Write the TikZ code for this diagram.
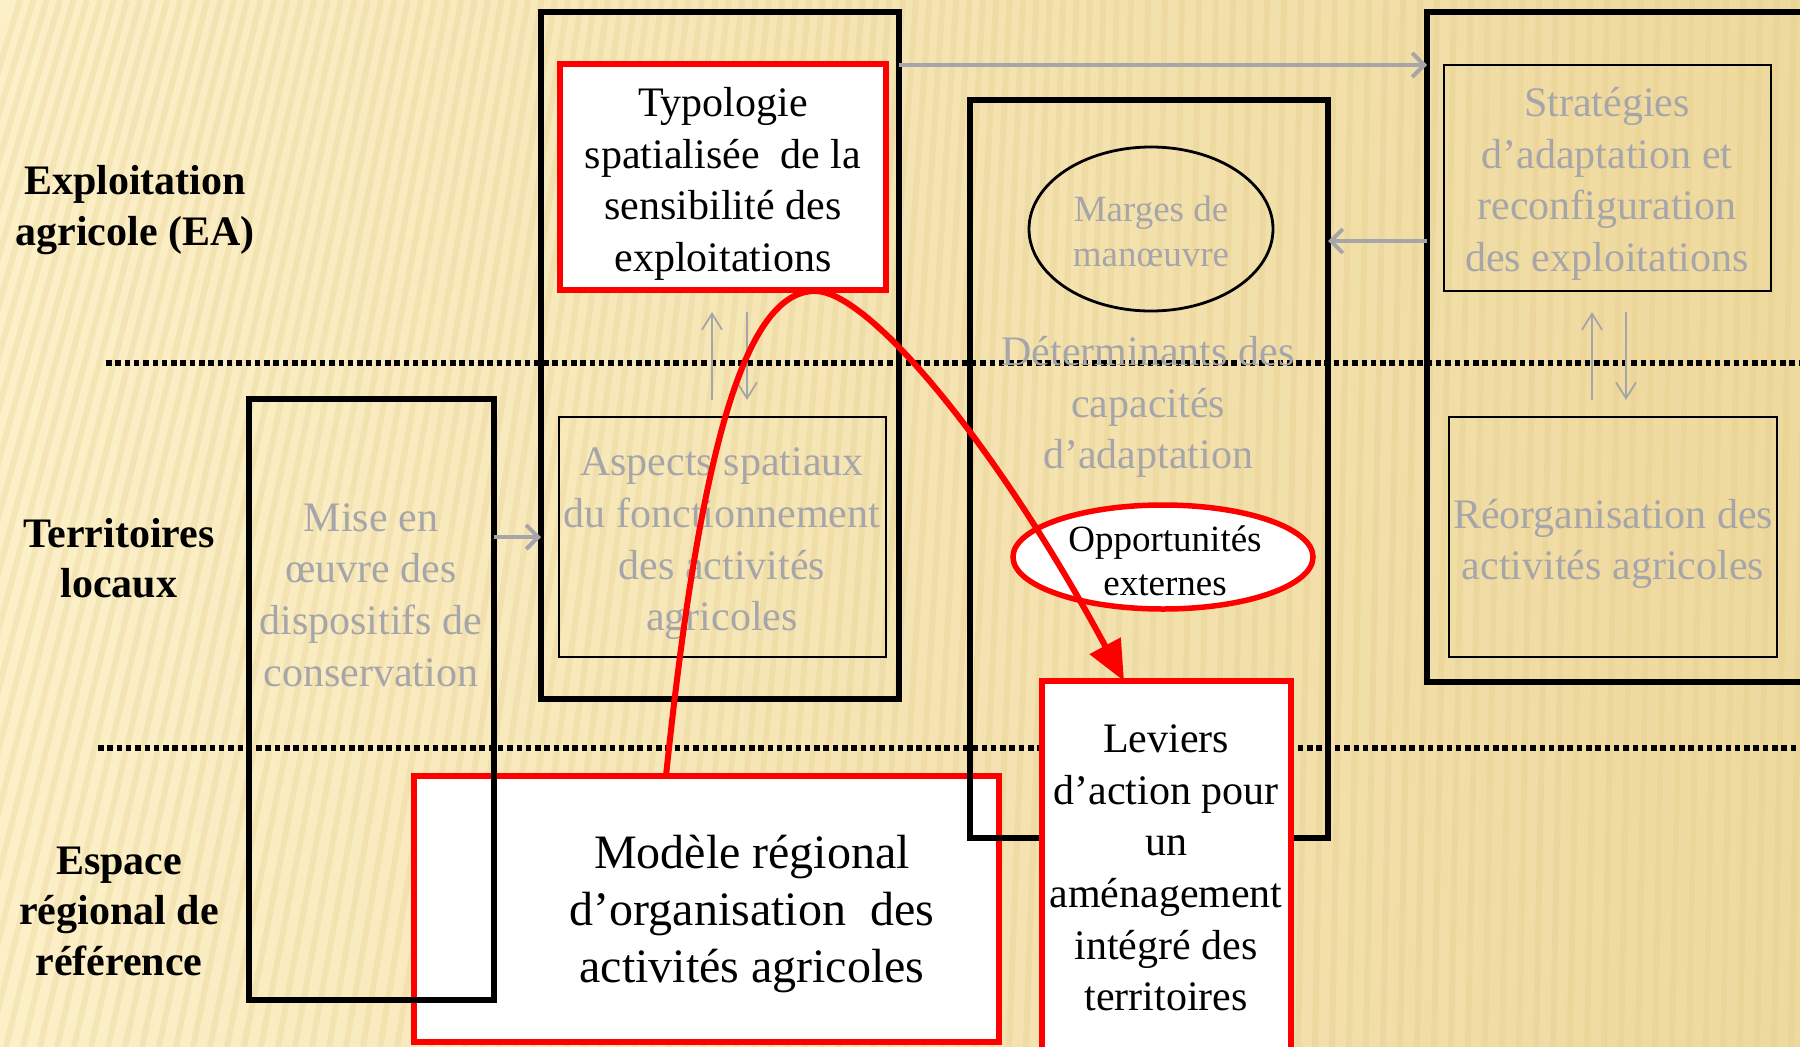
\documentclass[tikz,border=0pt]{standalone}
\usepackage{fontspec}
\setmainfont{Liberation Serif}
\usetikzlibrary{arrows.meta,shapes.geometric}
\definecolor{bgL}{RGB}{252,240,200}
\definecolor{bgR}{RGB}{238,217,158}
\definecolor{stripec}{RGB}{222,196,125}
\definecolor{gtxt}{RGB}{166,166,170}
\definecolor{redc}{RGB}{255,0,0}
\tikzset{
  bigbox/.style={draw=black, line width=5.5pt, inner sep=0pt, outer sep=0pt},
  innerbox/.style={draw=black, line width=2.8pt, inner sep=0pt, outer sep=0pt},
  redbox/.style={draw=redc, line width=6pt, fill=white, inner sep=0pt, outer sep=0pt},
  maintext/.style={font=\fontsize{42}{51.6}\selectfont, align=center, inner sep=0pt},
  graytext/.style={maintext, text=gtxt},
  lbl/.style={font=\bfseries\fontsize{42}{50.5}\selectfont, align=center, inner sep=0pt},
  garrow/.style={draw=gtxt, line width=4pt, -{Straight Barb[length=12pt,width=24pt]}},
  tarrow/.style={draw=gtxt, line width=1.8pt, -{Straight Barb[length=16pt,width=20pt]}},
  dotline/.style={draw=black, line width=5.5pt, dash pattern=on 5.5pt off 3.8pt},
  redcurve/.style={draw=redc, line width=6pt, -{Triangle[length=40pt,width=34pt]}},
  stripe/.style={draw=stripec, line width=6pt, opacity=0.22}
}
\begin{document}
\begin{tikzpicture}[x=1pt,y=-1pt]
\useasboundingbox (0,0) rectangle (1800,1047);
\shade[left color=bgL, right color=bgR] (0,0) rectangle (1800,1047);
\begin{scope}
\clip (0,0) rectangle (1800,1047);
\foreach \i in {-300,-283,...,1800} {
  \pgfmathsetmacro\dx{max(20,320*(1-(\i+300)/1500))}
  \draw[stripe] (\i,1047) -- ++(\dx,-1047);
}
\end{scope}

% dotted separators
\coordinate (d1s) at (106,363); \coordinate (d1e) at (1800,363);
\coordinate (d2s) at (98,748);  \coordinate (d2e) at (1800,748);
\draw[dotline] (d1s) -- (d1e);
\draw[dotline] (d2s) -- (d2e);

% left labels
\node[lbl] (lea) at (135,210) {Exploitation\\agricole (EA)};
\node[lbl] (ltl) at (119,558) {Territoires\\locaux};
\node[lbl] (ler) at (119,911) {Espace\\régional de\\référence};

% column A
\node[bigbox, anchor=north west, minimum width=358pt, minimum height=687pt] (colA) at (541,12) {};
\node[redbox, anchor=north west, minimum width=326pt, minimum height=226pt] (typo) at (560,64) {};
\node[maintext] (typot) at (723,184) {Typologie\\spatialisée\ \ de la\\sensibilité des\\exploitations};
\node[innerbox, anchor=north west, minimum width=327pt, minimum height=240pt] (aspects) at (559,417) {};
\node[graytext] (aspectst) at (722,544) {Aspects spatiaux\\du fonctionnement\\des activités\\agricoles};

% right column
\node[bigbox, anchor=north west, minimum width=378pt, minimum height=670pt] (rightbox) at (1427,12) {};
\node[innerbox, anchor=north west, minimum width=327pt, minimum height=226pt] (strat) at (1444,65) {};
\node[graytext] (stratt) at (1607,184) {Stratégies\\d’adaptation et\\reconfiguration\\des exploitations};
\node[innerbox, anchor=north west, minimum width=328pt, minimum height=240pt] (reorg) at (1449,417) {};
\node[graytext] (reorgt) at (1613,544) {Réorganisation des\\activités agricoles};

% Modele regional (below mise box)
\node[redbox, anchor=north west, minimum width=585pt, minimum height=266pt] (modele) at (414,776) {};
\node[maintext, font=\fontsize{48}{57.4}\selectfont] (modelet) at (752,914) {Modèle régional\\d’organisation\ \ des\\activités agricoles};

% Mise en oeuvre
\node[bigbox, anchor=north west, minimum width=245pt, minimum height=601pt] (mise) at (249,399) {};
\node[graytext] (miset) at (371,595) {Mise en\\œuvre des\\dispositifs de\\conservation};

% Determinants
\node[bigbox, anchor=north west, minimum width=358pt, minimum height=738pt] (determ) at (970,100) {};
\node[graytext] (determt) at (1148,407) {Déterminants des\\capacités\\d’adaptation};
\node[draw=black, line width=2.8pt, ellipse, minimum width=244pt, minimum height=164pt, inner sep=0pt] (marges) at (1151,229) {};
\node[graytext, font=\fontsize{37}{45}\selectfont] (margest) at (1151,231) {Marges de\\manœuvre};

% Leviers
\node[redbox, anchor=north west, minimum width=249pt, minimum height=370pt] (leviers) at (1042,681) {};
\node[maintext] (leviert) at (1166,868) {Leviers\\d’action pour\\un\\aménagement\\intégré des\\territoires};

% Opportunites
\node[draw=redc, fill=white, line width=5.5pt, ellipse, minimum width=300pt, minimum height=104pt, inner sep=0pt] (opport) at (1163,557) {};
\node[maintext, font=\fontsize{37}{44.5}\selectfont] (opportt) at (1165,561) {Opportunités\\externes};

% gray arrows
\coordinate (a1) at (0,65);
\coordinate (a2) at (0,241);
\coordinate (a3) at (0,537);
\draw[garrow] (colA.east |- a1) -- (rightbox.west |- a1);
\draw[garrow] (rightbox.west |- a2) -- (determ.east |- a2);
\draw[garrow] (mise.east |- a3) -- (colA.west |- a3);

\coordinate (u1) at (712,0); \coordinate (v1) at (747,0);
\coordinate (u2) at (1592,0); \coordinate (v2) at (1626,0);
\draw[tarrow, shorten <=17pt, shorten >=22pt] (aspects.north -| u1) -- (typo.south -| u1);
\draw[tarrow, shorten <=22pt, shorten >=17pt] (typo.south -| v1) -- (aspects.north -| v1);
\draw[tarrow, shorten <=17pt, shorten >=21pt] (reorg.north -| u2) -- (strat.south -| u2);
\draw[tarrow, shorten <=21pt, shorten >=17pt] (strat.south -| v2) -- (reorg.north -| v2);

% red curve
\coordinate (c0) at (666,0); \coordinate (c1) at (1124,0);
\draw[redcurve] (modele.north -| c0) .. controls (700,450) and (745,291) .. (815,291)
  .. controls (870,291) and (1000,450) .. (leviers.north -| c1);
\end{tikzpicture}
\end{document}
